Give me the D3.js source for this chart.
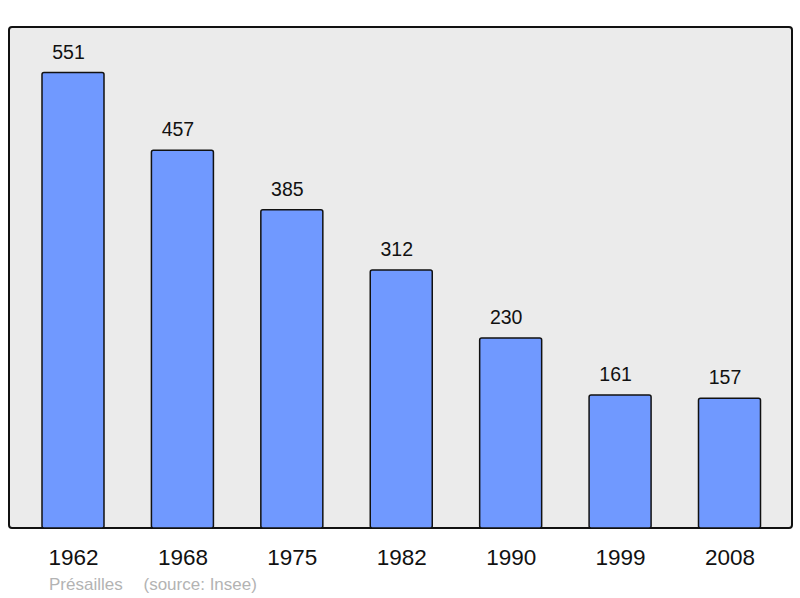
<!DOCTYPE html>
<html><head><meta charset="utf-8">
<script src="https://cdn.jsdelivr.net/npm/d3@7"></script>
<style>body{margin:0;background:#fff}svg{display:block}</style>
</head><body>
<script>
const years = ["1962","1968","1975","1982","1990","1999","2008"];
const population = [551,457,385,312,230,161,157];
const footerName = "Présailles";
const footerSource = "(source: Insee)";

const W = 800, H = 598;
const frame = {x0: 9, y0: 27, x1: 792, y1: 528};
const svg = d3.select("body").append("svg").attr("width", W).attr("height", H);

svg.append("rect").attr("x", frame.x0).attr("y", frame.y0)
  .attr("width", frame.x1 - frame.x0).attr("height", frame.y1 - frame.y0)
  .attr("rx", 3).attr("fill", "#ebebeb").attr("stroke", "#111").attr("stroke-width", 2);

const xs = d3.scalePoint().domain(years).range([73, 729.5]);
const bw = 62;
const y = d3.scaleLinear().domain([0, d3.max(population) * 1.1]).range([frame.y1, frame.y0]);

const g = svg.append("g");
g.selectAll("rect.bar").data(years).join("rect").attr("class", "bar")
  .attr("x", d => xs(d) - bw / 2)
  .attr("y", (d, i) => y(population[i]))
  .attr("width", bw)
  .attr("height", (d, i) => frame.y1 - y(population[i]))
  .attr("rx", 2)
  .attr("fill", "#7099ff").attr("stroke", "#111").attr("stroke-width", 1.5);

g.selectAll("text.val").data(years).join("text").attr("class", "val")
  .attr("x", d => xs(d) - 4.5)
  .attr("y", (d, i) => y(population[i]) - 14)
  .attr("text-anchor", "middle")
  .attr("font-family", "Liberation Sans, Arial, sans-serif")
  .attr("font-size", 19.5).attr("fill", "#111")
  .text((d, i) => population[i]);

const axis = d3.axisBottom(xs).tickSize(0).tickPadding(0);
const ax = svg.append("g").attr("transform", `translate(0,${565})`).call(axis);
ax.select(".domain").remove();
ax.selectAll("text").attr("dy", 0).attr("y", 0)
  .attr("font-family", "Liberation Sans, Arial, sans-serif")
  .attr("font-size", 22.5).attr("fill", "#111");

svg.append("text").attr("x", 49).attr("y", 590)
  .attr("font-family", "Liberation Sans, Arial, sans-serif")
  .attr("font-size", 17).attr("fill", "#b3b3b3").text(footerName);
svg.append("text").attr("x", 143.5).attr("y", 590)
  .attr("font-family", "Liberation Sans, Arial, sans-serif")
  .attr("font-size", 17).attr("fill", "#b3b3b3").text(footerSource);
</script>
</body></html>
